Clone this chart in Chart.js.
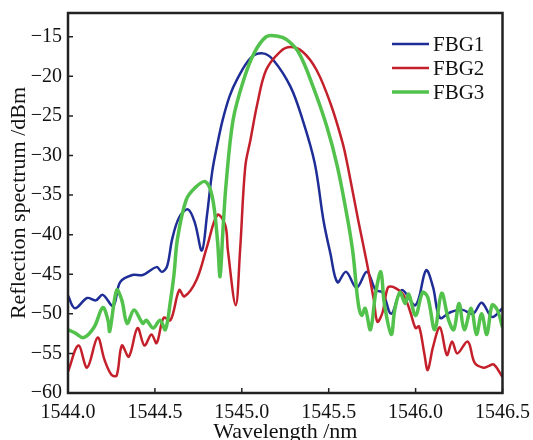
<!DOCTYPE html>
<html>
<head>
<meta charset="utf-8">
<script src="https://cdn.jsdelivr.net/npm/chart.js@4/dist/chart.umd.min.js"></script>
<style>
  html, body { margin: 0; padding: 0; background: #fff; }
  canvas { display: block; }
</style>
</head>
<body>
<canvas id="spectrum" width="533" height="440"></canvas>
<script>
// Reflection spectra of the three gratings
const fbg1Wavelength = [1544.00, 1544.04, 1544.11, 1544.16, 1544.20, 1544.26, 1544.30, 1544.37, 1544.43, 1544.51, 1544.54, 1544.57, 1544.60, 1544.64, 1544.69, 1544.73, 1544.77, 1544.80, 1544.83, 1544.86, 1544.89, 1544.93, 1544.97, 1545.05, 1545.12, 1545.18, 1545.28, 1545.35, 1545.42, 1545.47, 1545.51, 1545.55, 1545.60, 1545.66, 1545.72, 1545.77, 1545.81, 1545.86, 1545.92, 1546.00, 1546.06, 1546.10, 1546.14, 1546.20, 1546.27, 1546.33, 1546.38, 1546.44, 1546.50];
const fbg1Power = [-47.7, -49.3, -48.0, -48.3, -47.6, -49.0, -46.0, -45.1, -45.1, -44.1, -44.7, -44.0, -40.5, -37.8, -36.8, -38.5, -42.0, -37.5, -32.0, -28.5, -25.5, -22.5, -20.5, -17.7, -17.1, -17.9, -21.3, -25.5, -31.0, -38.2, -42.4, -46.0, -44.7, -46.7, -44.7, -47.0, -47.3, -50.0, -47.0, -48.9, -44.5, -46.6, -50.5, -49.8, -49.5, -50.0, -48.6, -50.4, -49.3];

const fbg2Wavelength = [1544.00, 1544.06, 1544.11, 1544.17, 1544.21, 1544.25, 1544.28, 1544.31, 1544.35, 1544.40, 1544.44, 1544.48, 1544.51, 1544.55, 1544.59, 1544.64, 1544.67, 1544.74, 1544.80, 1544.86, 1544.905, 1544.92, 1544.965, 1544.99, 1545.02, 1545.05, 1545.09, 1545.14, 1545.22, 1545.28, 1545.35, 1545.43, 1545.51, 1545.58, 1545.61, 1545.67, 1545.72, 1545.76, 1545.78, 1545.81, 1545.84, 1545.87, 1545.93, 1545.97, 1546.00, 1546.02, 1546.05, 1546.07, 1546.10, 1546.14, 1546.18, 1546.21, 1546.24, 1546.30, 1546.34, 1546.39, 1546.42, 1546.45, 1546.50];
const fbg2Power = [-57.3, -54.0, -56.8, -53.0, -55.8, -57.7, -57.8, -54.0, -55.4, -51.8, -54.0, -52.6, -53.7, -50.5, -50.8, -47.0, -47.8, -45.7, -41.5, -37.5, -38.8, -42.0, -48.9, -42.0, -31.4, -28.0, -23.4, -19.2, -16.9, -16.3, -16.9, -19.2, -23.4, -28.4, -31.4, -38.2, -43.6, -48.3, -51.0, -49.8, -46.7, -46.6, -47.6, -49.8, -51.8, -51.6, -55.0, -57.1, -54.2, -51.7, -55.2, -53.5, -55.0, -53.5, -56.2, -56.8, -56.6, -56.4, -58.0];

const fbg3Wavelength = [1544.00, 1544.04, 1544.09, 1544.15, 1544.20, 1544.23, 1544.24, 1544.28, 1544.31, 1544.34, 1544.38, 1544.43, 1544.45, 1544.49, 1544.53, 1544.56, 1544.59, 1544.61, 1544.63, 1544.68, 1544.73, 1544.79, 1544.83, 1544.86, 1544.875, 1544.89, 1544.91, 1544.95, 1545.01, 1545.07, 1545.14, 1545.20, 1545.26, 1545.33, 1545.41, 1545.49, 1545.55, 1545.61, 1545.64, 1545.67, 1545.69, 1545.71, 1545.74, 1545.77, 1545.80, 1545.82, 1545.86, 1545.88, 1545.91, 1545.94, 1545.96, 1546.00, 1546.04, 1546.07, 1546.11, 1546.15, 1546.19, 1546.22, 1546.25, 1546.28, 1546.32, 1546.35, 1546.38, 1546.41, 1546.44, 1546.47, 1546.50];
const fbg3Power = [-52.0, -52.4, -53.0, -51.7, -49.2, -50.8, -52.2, -47.0, -48.3, -51.2, -49.5, -51.2, -50.8, -51.8, -50.8, -52.0, -48.3, -45.0, -40.5, -35.6, -34.1, -33.3, -35.2, -40.7, -45.3, -40.0, -33.5, -25.5, -20.5, -17.1, -15.0, -14.9, -15.4, -17.1, -21.3, -26.4, -31.4, -38.2, -42.4, -48.7, -50.2, -49.3, -52.0, -47.4, -44.7, -48.7, -52.6, -49.5, -47.3, -48.7, -47.5, -50.2, -47.3, -47.9, -52.0, -47.4, -50.8, -52.0, -48.7, -52.0, -49.3, -52.6, -50.0, -52.6, -48.9, -49.5, -51.7];

const seriesNames = ['FBG1', 'FBG2', 'FBG3'];
const seriesColors = ['#1f2d96', '#c4202b', '#52c24c'];

const serif = "'Liberation Serif', 'DejaVu Serif', serif";

function toPoints(xs, ys) {
  return xs.map((x, i) => ({ x: x, y: ys[i] }));
}

// plot frame and inward tick marks
const frameTicks = {
  id: 'frameTicks',
  afterDraw(chart) {
    const ctx = chart.ctx;
    const a = chart.chartArea;
    const xs = chart.scales.x, ys = chart.scales.y;
    ctx.save();
    ctx.strokeStyle = '#222';
    ctx.lineWidth = 1.5;
    ctx.beginPath();
    xs.ticks.forEach(t => {
      const px = xs.getPixelForValue(t.value);
      ctx.moveTo(px, a.bottom);
      ctx.lineTo(px, a.bottom - 5);
    });
    ys.ticks.forEach(t => {
      const py = ys.getPixelForValue(t.value);
      ctx.moveTo(a.left, py);
      ctx.lineTo(a.left + 5, py);
    });
    ctx.stroke();
    ctx.lineWidth = 2.5;
    ctx.strokeRect(a.left, a.top, a.right - a.left, a.bottom - a.top);
    ctx.restore();
  }
};

// legend in the upper right corner of the plot
const cornerLegend = {
  id: 'cornerLegend',
  afterDraw(chart) {
    const ctx = chart.ctx;
    ctx.save();
    ctx.font = '21px ' + serif;
    ctx.textBaseline = 'middle';
    chart.data.datasets.forEach((ds, i) => {
      const y = 44 + i * 24;
      ctx.strokeStyle = ds.borderColor;
      ctx.lineWidth = ds.borderWidth;
      ctx.beginPath();
      ctx.moveTo(392, y);
      ctx.lineTo(429, y);
      ctx.stroke();
      ctx.fillStyle = '#111';
      ctx.fillText(ds.label, 433, y + 1);
    });
    ctx.restore();
  }
};

// keep the plot box where the figure has it, whatever the label sizes
function fixBox(size) {
  return s => {
    if (s.isHorizontal()) s.height = size; else s.width = size;
    s.paddingTop = 0;
    s.paddingBottom = 0;
    s.paddingLeft = 0;
    s.paddingRight = 0;
  };
}

const ctx = document.getElementById('spectrum').getContext('2d');
new Chart(ctx, {
  type: 'scatter',
  data: {
    datasets: [
      { label: seriesNames[0], data: toPoints(fbg1Wavelength, fbg1Power), borderColor: seriesColors[0], borderWidth: 2.5, order: 2 },
      { label: seriesNames[1], data: toPoints(fbg2Wavelength, fbg2Power), borderColor: seriesColors[1], borderWidth: 2.5, order: 1 },
      { label: seriesNames[2], data: toPoints(fbg3Wavelength, fbg3Power), borderColor: seriesColors[2], borderWidth: 3.5, order: 0 }
    ].map(ds => Object.assign(ds, {
      showLine: true,
      pointRadius: 0,
      fill: false,
      tension: 0.35
    }))
  },
  options: {
    responsive: false,
    animation: false,
    layout: { padding: { left: 0, right: 30.5, top: 13, bottom: 0 } },
    plugins: {
      legend: { display: false },
      tooltip: { enabled: false }
    },
    scales: {
      x: {
        type: 'linear',
        min: 1544,
        max: 1546.5,
        grid: { display: false, drawTicks: false },
        border: { display: false },
        ticks: {
          stepSize: 0.5,
          padding: 7.5,
          color: '#111',
          font: { family: serif, size: 20 },
          callback: v => v.toFixed(1)
        },
        title: {
          display: true,
          text: 'Wavelength /nm',
          color: '#111',
          font: { family: serif, size: 22 },
          padding: { top: 0, bottom: -5 }
        },
        afterFit: fixBox(47)
      },
      y: {
        min: -60,
        max: -12,
        grid: { display: false, drawTicks: false },
        border: { display: false },
        ticks: {
          stepSize: 5,
          includeBounds: false,
          padding: 6,
          color: '#111',
          font: { family: serif, size: 20 },
          callback: v => String(v).replace('-', '\u2212')
        },
        title: {
          display: true,
          text: 'Reflection spectrum /dBm',
          color: '#111',
          font: { family: serif, size: 22 },
          padding: { top: 6, bottom: 0 }
        },
        afterFit: fixBox(68)
      }
    }
  },
  plugins: [frameTicks, cornerLegend]
});
</script>
</body>
</html>
